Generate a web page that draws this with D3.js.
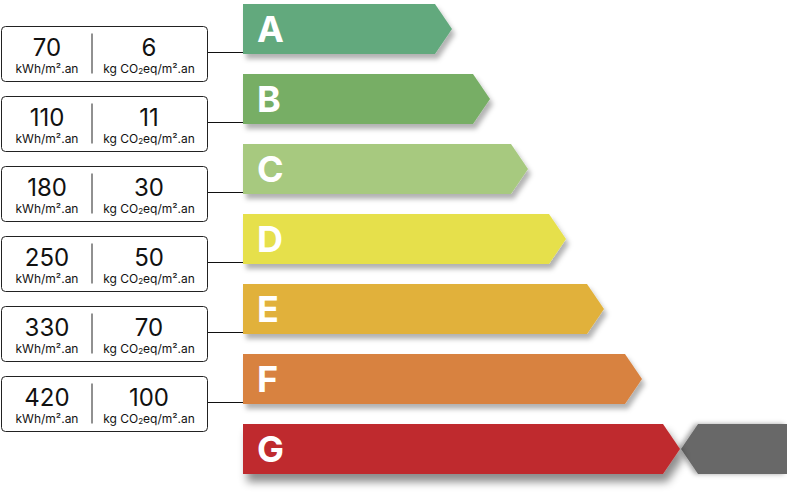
<!DOCTYPE html>
<html><head><meta charset="utf-8">
<script src="https://cdn.jsdelivr.net/npm/d3@7"></script>
<style>body{margin:0;background:#fff}svg{display:block}</style>
</head><body>
<script>
const classes = ["A","B","C","D","E","F","G"];
const rank = [1,2,3,4,5,6,7];
const colors = ["#62a97d","#77ae65","#a7c97f","#e6e04b","#e1b13a","#d8823f","#bf2c2e"];
const energy = ["70","110","180","250","330","420"];
const co2 = ["6","11","30","50","70","100"];
const energyUnit = "kWh/m².an";

const W=787,H=500;
const svg=d3.select("body").append("svg").attr("width",W).attr("height",H).style("font-family","Inter, Roboto, sans-serif");
const defs=svg.append("defs");
defs.append("filter").attr("id","sh").attr("x","-10%").attr("y","-30%").attr("width","130%").attr("height","180%")
  .append("feDropShadow").attr("dx",3).attr("dy",5).attr("stdDeviation",2.5).attr("flood-color","#000").attr("flood-opacity",0.3);
defs.append("filter").attr("id","shG").attr("x","-10%").attr("y","-30%").attr("width","130%").attr("height","200%")
  .append("feDropShadow").attr("dx",4).attr("dy",8).attr("stdDeviation",4).attr("flood-color","#000").attr("flood-opacity",0.45);
defs.append("filter").attr("id","shR").attr("x","-20%").attr("y","-30%").attr("width","140%").attr("height","160%")
  .append("feDropShadow").attr("dx",-3).attr("dy",0).attr("stdDeviation",2.5).attr("flood-color","#000").attr("flood-opacity",0.35);

const y=d3.scaleBand().domain(classes).range([4,474]).paddingInner(20/70).paddingOuter(0);
const xTip=d3.scaleLinear().domain([1,7]).range([452,680]);
const x0=243, tip=17;

// grey right arrow (behind)
const gy=y("G"), bh=y.bandwidth();
const gx=xTip(7)+1;
svg.append("path").attr("filter","url(#shR)").attr("fill","#686868")
  .attr("d",`M${gx},${gy+bh/2}L${gx+tip},${gy}L${W},${gy}L${W},${gy+bh}L${gx+tip},${gy+bh}Z`);

// bars
classes.forEach((c,i)=>{
  const yy=y(c), xt=xTip(rank[i]);
  svg.append("path").attr("fill",colors[i]).attr("filter",c==="G"?"url(#shG)":"url(#sh)")
    .attr("d",`M${x0},${yy}L${xt-tip},${yy}L${xt},${yy+bh/2}L${xt-tip},${yy+bh}L${x0},${yy+bh}Z`);
  svg.append("text").attr("x",x0+14).attr("y",yy+bh/2+13).attr("fill","#fff")
    .attr("font-size",36).attr("font-weight",700).text(c);
});

// boxes
energy.forEach((e,i)=>{
  const cy=y(classes[i])+bh-0.5;
  const g=svg.append("g");
  g.append("line").attr("x1",207).attr("x2",x0).attr("y1",cy-1).attr("y2",cy-1).attr("stroke","#111").attr("stroke-width",1);
  g.append("rect").attr("x",1.5).attr("y",cy-27).attr("width",206).attr("height",55).attr("rx",4)
    .attr("fill","#fff").attr("stroke","#222").attr("stroke-width",1);
  g.append("line").attr("x1",92).attr("x2",92).attr("y1",cy-20).attr("y2",cy+20).attr("stroke","#222");
  g.append("text").attr("x",47).attr("y",cy+2).attr("text-anchor","middle").attr("font-size",24).attr("fill","#111").text(e);
  g.append("text").attr("x",47).attr("y",cy+19).attr("text-anchor","middle").attr("font-size",12).attr("fill","#111").text(energyUnit);
  g.append("text").attr("x",149).attr("y",cy+2).attr("text-anchor","middle").attr("font-size",24).attr("fill","#111").text(co2[i]);
  const t=g.append("text").attr("x",149).attr("y",cy+19).attr("text-anchor","middle").attr("font-size",12).attr("fill","#111");
  t.append("tspan").text("kg CO");
  t.append("tspan").attr("font-size",8).attr("dy",1).text("2");
  t.append("tspan").attr("dy",-1).text("eq/m².an");
});
</script>
</body></html>
